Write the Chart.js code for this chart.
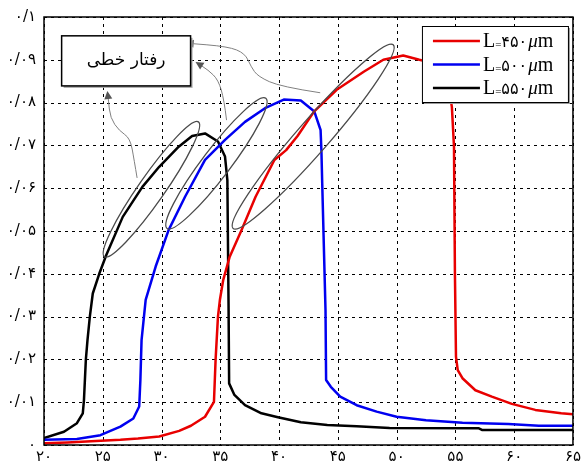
<!DOCTYPE html>
<html>
<head>
<meta charset="utf-8">
<script src="https://cdn.jsdelivr.net/npm/chart.js@4.4.1/dist/chart.umd.min.js"></script>
<style>
  html, body { margin: 0; padding: 0; background: #fff; }
  #wrap { width: 584px; height: 464px; }
</style>
</head>
<body>
<div id="wrap"><canvas id="c" width="584" height="464"></canvas></div>
<script>
// tick labels (Persian digits)
const xTickLabels = ['۲۰', '۲۵', '۳۰', '۳۵', '۴۰', '۴۵', '۵۰', '۵۵', '۶۰', '۶۵'];
const yTickLabels = ['۰', '۰/۰۱', '۰/۰۲', '۰/۰۳', '۰/۰۴', '۰/۰۵', '۰/۰۶', '۰/۰۷', '۰/۰۸', '۰/۰۹', '۰/۱'];

// series: L = 450, 500, 550 um
const seriesNames = ['۴۵۰', '۵۰۰', '۵۵۰'];
const seriesColors = ['#e80000', '#0000f0', '#000000'];

const xRed = [20, 22, 24, 26.5, 28, 29.8, 31.5, 32.5, 33.7, 34.46, 34.6, 34.8, 34.97, 35.25, 35.8, 36.8, 38.0, 39.6, 40.6, 41.57, 42.97, 44.9, 47.2, 48.87, 50.56, 51.93, 53.0, 53.8, 54.4, 54.7, 54.88, 54.96, 55.05, 55.2, 55.6, 56.7, 58.1, 59.8, 61.8, 64.0, 65];
const yRed = [0.0004, 0.0006, 0.0009, 0.0012, 0.0015, 0.002, 0.0033, 0.0045, 0.0066, 0.0101, 0.02, 0.030, 0.034, 0.0386, 0.044, 0.0502, 0.058, 0.0666, 0.0689, 0.0722, 0.0779, 0.083, 0.0872, 0.090, 0.091, 0.090, 0.0893, 0.0875, 0.084, 0.079, 0.0697, 0.040, 0.0206, 0.0175, 0.0156, 0.0128, 0.0113, 0.0096, 0.0082, 0.0074, 0.0072];

const xBlue = [20, 22.8, 24.8, 26.5, 27.6, 28.1, 28.2, 28.3, 28.65, 29.5, 30.6, 32.0, 33.7, 35.4, 37.1, 38.8, 40.4, 41.85, 43.0, 43.53, 43.6, 43.67, 43.95, 44.0, 44.4, 45.2, 46.6, 48.3, 50.0, 52.5, 55.6, 59.5, 62.1, 65];
const yBlue = [0.0012, 0.0014, 0.0023, 0.0043, 0.0062, 0.009, 0.0152, 0.0245, 0.0339, 0.0417, 0.0502, 0.058, 0.0666, 0.0713, 0.0755, 0.0787, 0.0807, 0.0805, 0.0779, 0.0736, 0.0689, 0.0611, 0.0315, 0.0152, 0.0136, 0.0113, 0.0093, 0.0078, 0.0066, 0.0058, 0.0052, 0.0049, 0.0045, 0.0045];

const xBlack = [20, 21.7, 22.8, 23.3, 23.4, 23.56, 23.7, 23.9, 24.15, 24.7, 25.3, 26.7, 28.37, 29.8, 31.46, 32.6, 33.7, 34.8, 35.4, 35.6, 35.7, 35.75, 36.2, 37.1, 38.5, 39.9, 41.85, 44.1, 46.6, 49.4, 57.0, 57.3, 65];
const yBlack = [0.0016, 0.0031, 0.0051, 0.0074, 0.0105, 0.0199, 0.0245, 0.030, 0.0354, 0.040, 0.0444, 0.0533, 0.0603, 0.065, 0.0697, 0.0722, 0.0728, 0.0709, 0.0674, 0.0619, 0.033, 0.0144, 0.0117, 0.0093, 0.0074, 0.0065, 0.0053, 0.0047, 0.0044, 0.004, 0.0039, 0.0035, 0.0035];

// annotation: ellipses around the linear parts (x1, y1, x2, y2 in data units)
const ellipses = [
  [25.14, 0.0440, 33.14, 0.0755],
  [30.47, 0.0506, 38.87, 0.0810],
  [36.09, 0.0506, 49.71, 0.0935]
];
const ellipseMinor = [13, 14, 16];
const noteText = 'رفتار خطی';
const noteBox = [21.5, 0.0956, 32.47, 0.0839];
const arrows = [
  [[43.50, 0.0823], [40.13, 0.0837], [38.20, 0.0861], [37.61, 0.0884], [37.10, 0.0915], [35.67, 0.0931], [32.05, 0.0939]],
  [[35.53, 0.0759], [35.33, 0.0806], [34.83, 0.0853], [33.98, 0.0876], [32.89, 0.0895]],
  [[27.92, 0.0624], [27.67, 0.0666], [27.33, 0.0717], [26.40, 0.0734], [25.64, 0.0764], [25.48, 0.0806], [25.39, 0.0827]]
];

function pts(xs, ys) { return xs.map((v, i) => ({x: v, y: ys[i]})); }

// dotted grid, drawn from the scales' own ticks
const dottedGrid = {
  id: 'dottedGrid',
  beforeDatasetsDraw(chart) {
    const ctx = chart.ctx, a = chart.chartArea;
    const sx = chart.scales.x, sy = chart.scales.y;
    ctx.save();
    ctx.strokeStyle = '#000';
    ctx.lineWidth = 1;
    ctx.setLineDash([3, 4]);
    sx.ticks.forEach(t => {
      let X = Math.round(sx.getPixelForValue(t.value)) + 0.5;
      ctx.beginPath(); ctx.moveTo(X, a.top); ctx.lineTo(X, a.bottom); ctx.stroke();
    });
    sy.ticks.forEach(t => {
      let Y = Math.round(sy.getPixelForValue(t.value)) + 0.5;
      ctx.beginPath(); ctx.moveTo(a.left, Y); ctx.lineTo(a.right, Y); ctx.stroke();
    });
    ctx.restore();
  }
};

const plotDecor = {
  id: 'plotDecor',
  afterDatasetsDraw(chart) {
    const ctx = chart.ctx, a = chart.chartArea;
    const sx = chart.scales.x, sy = chart.scales.y;
    const px = v => sx.getPixelForValue(v), py = v => sy.getPixelForValue(v);
    ctx.save();

    // frame
    ctx.strokeStyle = '#000';
    ctx.lineWidth = 1.5;
    ctx.strokeRect(a.left, a.top, a.width, a.height);

    // ellipses
    ctx.strokeStyle = '#4a4a4a';
    ctx.lineWidth = 1.3;
    ellipses.forEach((e, i) => {
      let x1 = px(e[0]), y1 = py(e[1]), x2 = px(e[2]), y2 = py(e[3]);
      let cx = (x1 + x2) / 2, cy = (y1 + y2) / 2;
      let r = Math.hypot(x2 - x1, y2 - y1) / 2;
      let ang = Math.atan2(y2 - y1, x2 - x1);
      ctx.beginPath();
      ctx.ellipse(cx, cy, r, ellipseMinor[i], ang, 0, Math.PI * 2);
      ctx.stroke();
    });

    // arrows
    ctx.strokeStyle = '#808080';
    ctx.fillStyle = '#555';
    ctx.lineWidth = 1;
    arrows.forEach(arr => {
      let p = arr.map(q => [px(q[0]), py(q[1])]);
      ctx.beginPath();
      ctx.moveTo(p[0][0], p[0][1]);
      for (let i = 1; i < p.length - 1; i++) {
        let mx = (p[i][0] + p[i + 1][0]) / 2, my = (p[i][1] + p[i + 1][1]) / 2;
        ctx.quadraticCurveTo(p[i][0], p[i][1], mx, my);
      }
      let n = p.length;
      let ang = Math.atan2(p[n - 1][1] - p[n - 2][1], p[n - 1][0] - p[n - 2][0]);
      let bx = p[n - 1][0] - 8 * Math.cos(ang), by = p[n - 1][1] - 8 * Math.sin(ang);
      ctx.lineTo(bx, by);
      ctx.stroke();
      ctx.beginPath();
      ctx.moveTo(p[n - 1][0], p[n - 1][1]);
      ctx.lineTo(bx + 4 * Math.sin(ang), by - 4 * Math.cos(ang));
      ctx.lineTo(bx - 4 * Math.sin(ang), by + 4 * Math.cos(ang));
      ctx.closePath();
      ctx.fill();
    });

    // note box
    let bx1 = px(noteBox[0]), by1 = py(noteBox[1]), bx2 = px(noteBox[2]), by2 = py(noteBox[3]);
    ctx.fillStyle = '#aaa';
    ctx.fillRect(bx1 + 2, by1 + 2, bx2 - bx1, by2 - by1);
    ctx.fillStyle = '#fff';
    ctx.fillRect(bx1, by1, bx2 - bx1, by2 - by1);
    ctx.strokeStyle = '#000';
    ctx.lineWidth = 1.5;
    ctx.strokeRect(bx1, by1, bx2 - bx1, by2 - by1);
    ctx.fillStyle = '#000';
    ctx.font = '17px "DejaVu Serif", "DejaVu Sans", serif';
    ctx.textAlign = 'center';
    ctx.textBaseline = 'middle';
    ctx.fillText(noteText, (bx1 + bx2) / 2, (by1 + by2) / 2);

    // legend
    let lx = a.right - 151, ly = a.top + 9, lw = 146, lh = 76;
    ctx.fillStyle = '#999';
    ctx.fillRect(lx + 2, ly + 2, lw, lh);
    ctx.fillStyle = '#fff';
    ctx.fillRect(lx, ly, lw, lh);
    ctx.strokeStyle = '#000';
    ctx.lineWidth = 1;
    ctx.strokeRect(lx + 0.5, ly + 0.5, lw, lh);
    ctx.textAlign = 'left';
    ctx.textBaseline = 'alphabetic';
    seriesNames.forEach((name, i) => {
      let yy = ly + 15 + i * 23.5;
      ctx.strokeStyle = seriesColors[i];
      ctx.lineWidth = 2.5;
      ctx.beginPath();
      ctx.moveTo(lx + 11, yy);
      ctx.lineTo(lx + 58, yy);
      ctx.stroke();
      ctx.fillStyle = '#000';
      let tx = lx + 61, base = yy + 6;
      const parts = [
        ['L', '20px "Liberation Serif", serif', 0],
        ['=', '11px "Liberation Serif", serif', 1],
        [name, '16px "DejaVu Sans", sans-serif', 0],
        ['μ', 'italic 19px "Liberation Serif", serif', 0],
        ['m', '20px "Liberation Serif", serif', 0]
      ];
      parts.forEach(pt => {
        ctx.font = pt[1];
        ctx.fillText(pt[0], tx, base + pt[2]);
        tx += ctx.measureText(pt[0]).width + (pt[0] === name ? 1 : 0);
      });
    });
    ctx.restore();
  }
};

new Chart(document.getElementById('c').getContext('2d'), {
  type: 'line',
  data: {
    datasets: [
      {label: seriesNames[0], data: pts(xRed, yRed), borderColor: seriesColors[0]},
      {label: seriesNames[1], data: pts(xBlue, yBlue), borderColor: seriesColors[1]},
      {label: seriesNames[2], data: pts(xBlack, yBlack), borderColor: seriesColors[2]}
    ]
  },
  options: {
    responsive: false,
    animation: false,
    layout: {padding: {left: 0, right: 6, top: 17, bottom: 0}},
    elements: {
      point: {radius: 0},
      line: {borderWidth: 2.5, tension: 0, borderJoinStyle: 'round', borderCapStyle: 'round'}
    },
    plugins: {legend: {display: false}, tooltip: {enabled: false}},
    scales: {
      x: {
        type: 'linear', min: 20, max: 65,
        afterFit: s => { s.height = 19; },
        ticks: {
          stepSize: 5, padding: 3, color: '#000',
          font: {family: '"DejaVu Sans", sans-serif', size: 15},
          callback: (v, i) => xTickLabels[i]
        },
        grid: {display: false, drawTicks: false},
        border: {display: false}
      },
      y: {
        min: 0, max: 0.1,
        afterFit: s => { s.width = 44; },
        ticks: {
          stepSize: 0.01, padding: 8, color: '#000',
          font: {family: '"DejaVu Sans", sans-serif', size: 15},
          callback: (v, i) => yTickLabels[i]
        },
        grid: {display: false, drawTicks: false},
        border: {display: false}
      }
    }
  },
  plugins: [dottedGrid, plotDecor]
});
</script>
</body>
</html>
